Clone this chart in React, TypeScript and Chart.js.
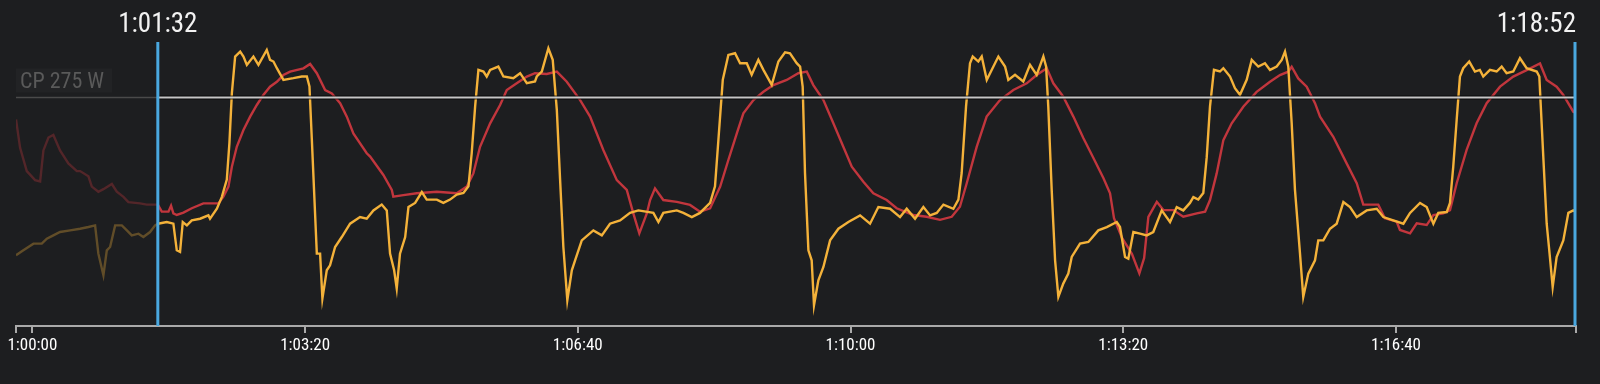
import { useEffect, useRef } from "react";
import { Chart, registerables } from "chart.js";

Chart.register(...registerables);

// ---- data (seconds since 1:00:00) ----
const rangeStart = -12;
const rangeEnd = 1132;
const selStart = 92; // 1:01:32
const selEnd = 1132; // 1:18:52
const cpWatts = 275;
const cpLabel = "CP 275 W";
const xTickValues = [0, 200, 400, 600, 800, 1000];
const powerAxis = [0, 341.5];
const hrAxis = [70, 180];

const powerTimes = [
  -12, -6.6, 0.8, 6.9, 10.6, 15.4, 20.3, 27.7, 35, 41.1, 46, 48.4, 52.1, 54.6, 57, 60.7, 65.6, 69.3, 72.9, 77.8, 81.4, 86.3, 90, 92,
  98.6, 103.4, 105.9, 108.3, 110.3, 113.3, 116.9, 123, 129.1, 130.3, 135.3, 138.9, 142.6, 144.5, 146.3, 148.7, 152.4, 154.8, 157.3, 162.1,
  165.8, 171.9, 174.3, 176.8, 179.3, 184.1, 191.4, 197.6, 201.3, 203.2, 204.9, 208.6, 211, 212.7, 215.9, 218.3, 222, 226.9, 233, 240.3,
  245.2, 250.1, 256.2, 259.9, 262.3, 265.3, 267.2, 269.6, 273.4, 275.8, 280.7, 285.6, 289.2, 296.6, 301.4, 306.3, 311.2, 316.1, 319.8,
  322.2, 324.7, 327.1, 330.8, 333.2, 335.7, 341.7, 345.4, 352.7, 357.7, 362.6, 368.6, 369.9, 373.6, 378.4, 381.6, 384.6, 387, 389.4,
  392.3, 395.6, 398, 402.9, 411.4, 417.6, 423.6, 431, 438.3, 444.4, 455.4, 459.1, 462.7, 472.6, 477.4, 483.6, 489.6, 497, 500.6, 503.1,
  506.3, 510.4, 515.3, 519, 523.9, 527.5, 532.4, 536.1, 542.2, 547.1, 552, 555.6, 560.5, 563, 564.9, 566.6, 569.1, 571.5, 573.2, 576.4,
  580.1, 585, 591.1, 598.4, 607, 614.3, 620.4, 629, 636.3, 641.2, 647.3, 653.4, 658.3, 663.2, 668.1, 675.4, 679.1, 681.5, 684.7, 687.6,
  689.6, 693.7, 696.2, 699.9, 708.4, 713.3, 715.7, 720.6, 726.7, 731.6, 736.5, 741.4, 743.4, 745, 747.5, 748.7, 750, 752.4, 756, 759.7,
  762.2, 768.3, 774.4, 781.7, 787.9, 795.2, 797.6, 801.3, 803.7, 807.4, 812.3, 817.2, 822, 828.2, 834.3, 839.2, 844, 848.9, 851.4, 855,
  858.7, 861.2, 863.6, 866.5, 870.9, 873.4, 878.3, 881.9, 885.6, 890.5, 894.2, 899, 903.9, 907.6, 912.5, 916.2, 918.6, 921, 923.5, 925.9,
  929.6, 932, 935.7, 940.6, 943, 946.7, 951.6, 956.5, 961.4, 966.3, 971.2, 978.5, 985.9, 990.7, 998, 1005.4, 1010.3, 1017.6, 1022.5,
  1027.4, 1031, 1037.2, 1039.6, 1042, 1044.5, 1046.9, 1049.3, 1053.7, 1057.9, 1061.5, 1064, 1068.9, 1073.8, 1077.5, 1081.1, 1086, 1090.9,
  1095.8, 1103.2, 1105.1, 1108, 1110.5, 1112.4, 1114.9, 1117.8, 1122.7, 1126.4, 1130, 1132,
];
const powerWatts = [
  85, 91, 99, 99, 105, 109, 113, 115, 117, 119, 121, 87, 61, 91, 95, 121, 121, 115, 109, 111, 107, 113, 121, 123,
  125, 123, 91, 89, 125, 121, 127, 129, 133, 129, 141, 155, 176, 220, 280, 324, 330, 324, 314, 324,
  314, 332, 320, 318, 310, 296, 298, 300, 300, 288, 226, 87, 87, 33, 67, 73, 95, 107, 123, 131,
  129, 139, 146, 139, 87, 67, 45, 87, 107, 143, 148, 161, 152, 152, 148, 152, 158, 160, 168,
  208, 264, 308, 306, 300, 308, 312, 300, 298, 304, 292, 294, 300, 306, 334, 320, 260, 176, 95,
  31, 67, 79, 103, 115, 109, 123, 127, 136, 139, 136, 125, 136, 139, 136, 131, 136, 148, 168, 224,
  296, 326, 328, 316, 316, 302, 320, 308, 290, 318, 329, 328, 316, 312, 288, 184, 91, 79, 25, 55,
  71, 103, 117, 125, 133, 123, 143, 141, 131, 141, 129, 143, 133, 136, 146, 141, 152, 184, 264, 316,
  324, 318, 324, 296, 324, 312, 296, 302, 294, 314, 302, 324, 312, 264, 164, 123, 79, 35, 51, 63,
  83, 99, 101, 115, 119, 125, 119, 83, 81, 113, 111, 109, 113, 139, 125, 143, 139, 148, 155, 152,
  160, 203, 264, 308, 306, 310, 300, 286, 278, 296, 320, 312, 316, 308, 312, 320, 330, 312, 244, 164,
  87, 35, 63, 79, 103, 103, 117, 123, 149, 143, 131, 139, 141, 131, 127, 123, 136, 148, 143,
  123, 136, 137, 148, 192, 248, 300, 310, 318, 306, 308, 300, 308, 306, 312, 304, 306, 322,
  310, 306, 300, 204, 123, 91, 47, 83, 103, 136, 139, 137,
];

const hrTimes = [
  -12, -9, -4.1, 2, 5.7, 8.1, 11.8, 15.4, 20.3, 26.4, 32.6, 35, 41.1, 43.6, 48.4, 52.1, 58.3, 61.9, 66.8, 70.4, 79, 83.9, 90, 92,
  94.9, 99.8, 101.7, 103.4, 105.9, 110.8, 116.9, 125.4, 136.4, 140.1, 143.8, 146.3, 149.9, 154.8, 159.7, 164.6, 169.4, 174.3, 179.3,
  184.1, 189, 198.8, 203.7, 208.6, 214.7, 219.6, 225.7, 230.6, 235.4, 245.2, 247.7, 257.4, 263.6, 264.7, 272.1, 281.9, 296.6, 311.2,
  318.6, 323.4, 328.3, 335.7, 343, 347.9, 355.2, 362.6, 368.6, 377.2, 384.6, 391.9, 401.7, 409, 418.7, 428.6, 435.9, 440.7, 445.1,
  450.6, 453, 456.6, 462.7, 472.6, 482.3, 489.6, 497, 504.4, 510.4, 516.6, 521.4, 528.8, 536.1, 543.4, 553.2, 561.7, 567.9, 572.7,
  580.1, 587.4, 594.7, 600.9, 609.4, 616.7, 626.5, 633.8, 646, 655.8, 665.6, 674.2, 680.2, 685.2, 692.5, 699.8, 709.6, 719.4, 729.2,
  736.5, 743.9, 748.7, 756, 763.4, 770.7, 778.1, 785.4, 790.3, 793.2, 799.1, 806.4, 811.8, 815.3, 818.4, 824.6, 829.4, 836.7, 844,
  853.9, 860, 863.6, 868.5, 873.4, 879.5, 888, 897.8, 907.6, 914.9, 921, 923.5, 928.3, 934.5, 940.6, 944.3, 954, 963.8, 971.2, 976,
  987, 991.9, 1000.5, 1002.9, 1010.3, 1015.2, 1022.5, 1027.4, 1034.7, 1039.6, 1044.5, 1051.8, 1059.1, 1066.5, 1076.3, 1086, 1095.8,
  1105.6, 1110.5, 1117.8, 1122.7, 1130, 1132,
];
const hrBpm = [
  150, 139, 130, 126.5, 126, 138, 143, 144, 138, 133, 130, 130, 128, 124, 122, 123, 125, 122, 120, 118, 117.5, 117, 117, 117,
  114.3, 114.3, 116.6, 113.6, 113, 113.9, 115.6, 117.5, 117.5, 120.1, 124, 131.7, 139.4, 145.9, 151.1, 155.6, 159.5, 162.7, 164.6,
  167.2, 168.5, 169.8, 171.5, 167.9, 161.4, 160.1, 156.3, 151.1, 144.6, 136.9, 135.6, 128.5, 122.7, 120.1, 120.7, 121.4, 122, 121.4,
  124, 129.1, 139.4, 148.5, 155.6, 161.4, 164, 166.6, 167.9, 167.6, 168.5, 164.6, 157.5, 151.1, 138.2, 126.5, 122.7, 113.6, 105.9,
  113.6, 118.8, 123.3, 118.8, 118.1, 116.9, 114.3, 115.6, 124, 134.3, 144.6, 152.4, 157.5, 160.7, 163.3, 165.3, 167.9, 168.5, 163.3,
  157.5, 148.5, 139.4, 131.7, 125.9, 121.4, 118.8, 115.6, 113, 112.3, 111.1, 112.3, 116.2, 125.3, 139.4, 151.1, 157.5, 161.4, 164,
  167.2, 169.8, 164, 158.8, 151.1, 142.8, 135.1, 127.3, 121.4, 111.8, 104.1, 97.9, 90.4, 96.3, 112.3, 118.1, 114.9, 114.9, 112.3,
  113.6, 114.3, 118.8, 129.1, 142, 148.5, 154.9, 160.7, 164.6, 167.2, 168.5, 170.4, 165.9, 162.7, 156.3, 151.1, 143.3, 133, 125.3, 117,
  117, 111.7, 110.4, 107.2, 105.9, 109.8, 109.1, 113, 113.6, 114.9, 125.3, 138.2, 148.5, 156.3, 162.7, 166.6, 169.1,
  171.7, 165.3, 162.7, 159.5, 153, 152.5,
];

// ---- styles ----
const BG = "#1d1e20";
const YELLOW = "#f4b23a";
const YELLOW_DIM = "rgba(244,178,58,0.32)";
const RED = "#c2363d";
const RED_DIM = "rgba(194,54,61,0.33)";
const BLUE = "#4aa8df";
const AXIS = "#aaaaaa";
const FONT = "'Liberation Sans Narrow', 'Roboto Condensed', 'Roboto', sans-serif";

function fmtClock(t: number) {
  const m = Math.floor(t / 60);
  const s = Math.round(t - m * 60);
  return `1:${String(m).padStart(2, "0")}:${String(s).padStart(2, "0")}`;
}

export default function App() {
  const ref = useRef<HTMLCanvasElement>(null);

  useEffect(() => {
    const canvas = ref.current;
    if (!canvas) return;

    const overlay = {
      id: "overlay",
      afterDatasetsDraw(chart: any) {
        const { ctx, chartArea } = chart;
        const xs = chart.scales.x;
        const yP = chart.scales.yP;
        const yCp = Math.round(yP.getPixelForValue(cpWatts)) + 0.5;
        const xa = xs.getPixelForValue(selStart);
        const xb = xs.getPixelForValue(selEnd);
        ctx.save();
        ctx.strokeStyle = "#4a4a4a";
        ctx.lineWidth = 1.5;
        ctx.beginPath();
        ctx.moveTo(chartArea.left, yCp);
        ctx.lineTo(xa, yCp);
        ctx.stroke();
        ctx.strokeStyle = "rgba(0,0,0,0.7)";
        ctx.lineWidth = 4;
        ctx.beginPath();
        ctx.moveTo(xa, yCp);
        ctx.lineTo(xb, yCp);
        ctx.stroke();
        ctx.strokeStyle = "rgba(215,215,215,0.92)";
        ctx.lineWidth = 2;
        ctx.beginPath();
        ctx.moveTo(xa, yCp);
        ctx.lineTo(xb, yCp);
        ctx.stroke();
        ctx.fillStyle = "rgba(255,255,255,0.025)";
        ctx.fillRect(chartArea.left, yCp - 29, 96, 24);
        ctx.font = `22px ${FONT}`;
        ctx.fillStyle = "#5a5a5a";
        ctx.textAlign = "left";
        ctx.textBaseline = "alphabetic";
        ctx.fillText(cpLabel, chartArea.left + 4, yCp - 10);
        ctx.strokeStyle = BLUE;
        ctx.lineWidth = 3;
        for (const x of [xa, xb - 1]) {
          ctx.beginPath();
          ctx.moveTo(x, chartArea.top);
          ctx.lineTo(x, chartArea.bottom);
          ctx.stroke();
        }
        ctx.font = `27px ${FONT}`;
        ctx.fillStyle = "#f2f2f2";
        ctx.textAlign = "center";
        ctx.fillText(fmtClock(selStart), xa, 32);
        ctx.textAlign = "right";
        ctx.fillText(fmtClock(selEnd), xb, 32);
        ctx.restore();
      },
    };

    const chart = new Chart(canvas, {
      type: "line",
      data: {
        datasets: [
          {
            label: "Power",
            data: powerTimes.map((t, i) => ({ x: t, y: powerWatts[i] })),
            yAxisID: "yP",
            borderColor: YELLOW,
            borderWidth: 2.4,
            pointRadius: 0,
            tension: 0,
            order: 0,
            segment: {
              borderColor: (c: any) => (c.p1.parsed.x <= selStart ? YELLOW_DIM : undefined),
            },
          },
          {
            label: "Heart rate",
            data: hrTimes.map((t, i) => ({ x: t, y: hrBpm[i] })),
            yAxisID: "yH",
            borderColor: RED,
            borderWidth: 2.4,
            pointRadius: 0,
            tension: 0,
            order: 1,
            segment: {
              borderColor: (c: any) => (c.p1.parsed.x <= selStart ? RED_DIM : undefined),
            },
          },
        ],
      },
      options: {
        responsive: false,
        animation: false,
        devicePixelRatio: 1,
        layout: { padding: { left: 16, right: 24, top: 42, bottom: 0 } },
        plugins: { legend: { display: false }, tooltip: { enabled: false } },
        scales: {
          x: {
            type: "linear",
            min: rangeStart,
            max: rangeEnd,
            afterBuildTicks: (scale: any) => {
              scale.ticks = [rangeStart, ...xTickValues, rangeEnd].map((v) => ({ value: v }));
            },
            afterFit: (scale: any) => {
              scale.height = 58;
              scale.paddingLeft = 0;
              scale.paddingRight = 0;
            },
            ticks: {
              autoSkip: false,
              maxRotation: 0,
              padding: 3,
              color: "#ffffff",
              font: { family: FONT, size: 17 },
              callback: (v: any) => (xTickValues.includes(Number(v)) ? fmtClock(Number(v)) : ""),
            },
            grid: { drawOnChartArea: false, drawTicks: true, tickLength: 7, color: AXIS, lineWidth: 2 },
            border: { display: true, color: AXIS, width: 2 },
          },
          yP: { type: "linear", display: false, min: powerAxis[0], max: powerAxis[1] },
          yH: { type: "linear", display: false, min: hrAxis[0], max: hrAxis[1] },
        },
      },
      plugins: [overlay],
    } as any);

    return () => chart.destroy();
  }, []);

  return (
    <div style={{ position: "fixed", left: 0, top: 0, width: 1600, height: 384, background: BG }}>
      <canvas ref={ref} width={1600} height={384} style={{ display: "block", width: 1600, height: 384 }} />
    </div>
  );
}
